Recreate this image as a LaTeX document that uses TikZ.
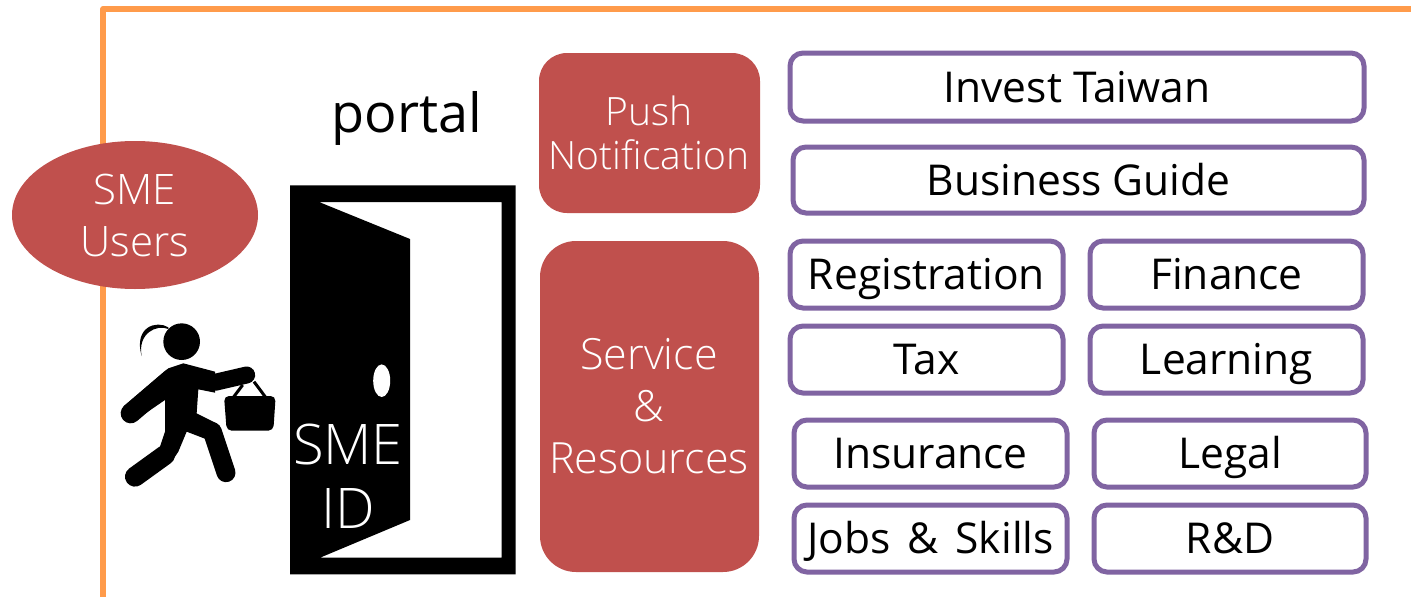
\documentclass[tikz,border=0pt]{standalone}
\usepackage{fontspec}
\setmainfont{Open Sans}
\newfontfamily\lightf{Open Sans Light}
\usetikzlibrary{shapes.geometric}
\definecolor{frameor}{HTML}{FF9B4B}
\definecolor{redfill}{HTML}{C0504D}
\definecolor{purpleln}{HTML}{8064A2}
\newcommand{\fs}[2]{\fontsize{#1}{#2}\selectfont}
\tikzset{
  x=1pt,y=-1pt,
  itembox/.style={draw=purpleln,line width=5pt,rounded corners=13pt,fill=white,font=\fs{42.5}{50},text=black,inner sep=0pt,anchor=north west,text height=30pt,text depth=0pt},
  limb/.style={line width=20pt,line cap=round,line join=round,black}
}
\newcommand{\itm}[6]{\node[itembox,minimum width=#4pt-#2pt-2pt,minimum height=#5pt-#3pt-2pt] (#1) at (#2-1.5,#3-1.5) {#6};}
\begin{document}
\begin{tikzpicture}
\useasboundingbox (0,0) rectangle (1411,597);
\fill[white] (0,0) rectangle (1411,597);
% frame
\draw[frameor,line width=5.5pt,line join=round] (103,597) -- (103,8.8) -- (1411,8.8);
% SME users
\node[ellipse,fill=redfill,text=white,align=center,inner sep=0pt,minimum width=246pt,minimum height=148pt,font=\lightf\fs{42}{52}] (users) at (135,215) {SME\\Users};
% person (coordinates of a 3x enlargement)
\begin{scope}[shift={(100,300)},x=.33333pt,y=-.33333pt]
\fill (245,125) circle (55);
\fill (205,82) .. controls (170,60) and (100,80) .. (125,168) .. controls (112,100) and (170,72) .. (205,87) -- cycle;
\fill[line join=round] (205,205) -- (250,190) -- (345,215) -- (345,278) -- (295,268) -- (290,340) -- (350,370) -- (325,420) -- (260,395) -- (235,455) -- (215,485) -- (180,440) -- (195,395) -- (195,300) -- (100,365) -- (70,320) -- cycle;
\draw[limb] (92,340) -- (215,235);
\draw[limb,line width=17pt] (345,247) -- (440,225);
\draw[limb,line width=19pt] (337,395) -- (378,518);
\draw[limb] (105,530) -- (195,465);
\fill[rounded corners=5pt] (372,288) -- (527,288) -- (520,392) -- (380,392) -- cycle;
\draw[line width=3pt] (400,292) -- (428,255);
\draw[line width=3pt] (497,292) -- (462,245);
\end{scope}
% door
\fill[even odd rule] (290,185.3) rectangle (515.7,574.3)
  (319,202) -- (501.7,202) -- (501.7,557.7) -- (320,557.7) -- (410,520) -- (410,239) -- cycle;
\fill[white] (381.7,380.7) ellipse (8.5 and 16.3);
\node[text=white,align=center,inner sep=0pt,font=\lightf\fs{56}{64}] (smeid) at (348,476) {SME\\ID};
\node[text=black,inner sep=0pt,font=\fs{54}{60}] (portal) at (407,118) {portal};
% red boxes
\fill[redfill,rounded corners=28pt] (539,53) rectangle (760,213);
\node[text=white,align=center,inner sep=0pt,font=\lightf\fs{39}{44}] (push) at (649,133) {Push\\Notification};
\fill[redfill,rounded corners=36pt] (540,241) rectangle (759,572);
\node[text=white,align=center,inner sep=0pt,font=\lightf\fs{43}{52}] (service) at (649,406.5) {Service\\\&\\Resources};
% items
\itm{a}{789}{52}{1365}{122}{Invest Taiwan}
\itm{b}{792}{146}{1365}{214}{Business Guide}
\itm{c}{789}{240}{1064}{309}{Registration}
\itm{d}{1089}{240}{1364}{309}{Finance}
\itm{e}{789}{325}{1064}{394}{Tax}
\itm{f}{1089}{325}{1364}{394}{Learning}
\itm{g}{793}{419}{1068}{488}{Insurance}
\itm{h}{1093}{419}{1367}{488}{Legal}
\itm{i}{793}{504}{1068}{573}{Jobs\hspace{6pt} \&\hspace{6pt} Skills}
\itm{j}{1093}{504}{1367}{573}{R\&D}
\end{tikzpicture}
\end{document}
